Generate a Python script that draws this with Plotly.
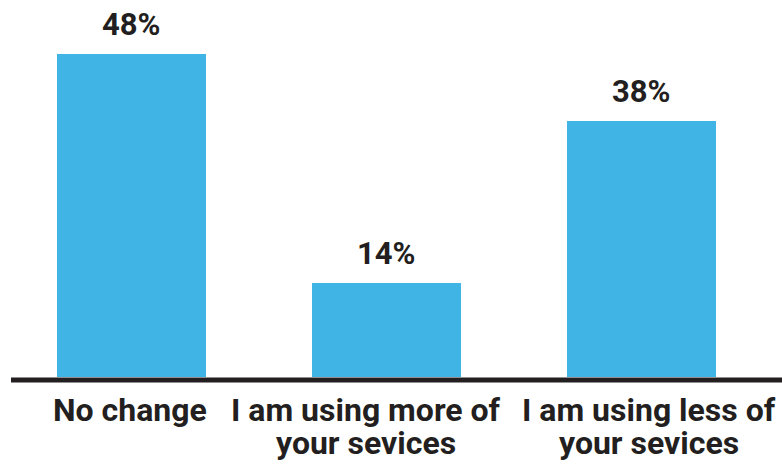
import plotly.graph_objects as go

# Survey responses: change in service usage
categories = ["No change", "I am using more of your sevices", "I am using less of your sevices"]
shares = [48, 14, 38]
tick_lines = [
    ["No change"],
    ["I am using more of", "your sevices"],
    ["I am using less of", "your sevices"],
]

W, H = 782, 464
BAR_COLOR = "#41B4E6"
TEXT_COLOR = "#231F20"
FONT = "Roboto"

fig = go.Figure()
fig.add_trace(go.Bar(
    x=list(range(len(categories))),
    y=shares,
    width=0.584,
    marker=dict(color=BAR_COLOR, line=dict(width=0)),
    hovertext=categories,
    hoverinfo="text+y",
))

# value labels above each bar
for i, v in enumerate(shares):
    fig.add_annotation(
        x=i, y=v, xref="x", yref="y",
        text=f"<b>{v}%</b>", showarrow=False,
        yanchor="bottom", yshift=9,
        font=dict(family=FONT, size=31, color=TEXT_COLOR),
    )

# category labels below the baseline, one annotation per line
label_shift = [-1, -20, 8]
for i, lines in enumerate(tick_lines):
    for j, line in enumerate(lines):
        fig.add_annotation(
            x=i, xref="x",
            y=1 - (410 + 33 * j) / H, yref="paper",
            text=f"<b>{line}</b>", showarrow=False,
            yanchor="middle", xshift=label_shift[i],
            font=dict(family=FONT, size=32, color=TEXT_COLOR),
        )

# baseline rule
fig.add_shape(
    type="line", xref="paper", yref="paper",
    x0=11 / W, x1=1, y0=1 - 380 / H, y1=1 - 380 / H,
    line=dict(color=TEXT_COLOR, width=5),
)

px_per_unit = (377 - 54) / 48
fig.update_layout(
    width=W, height=H,
    margin=dict(l=0, r=0, t=0, b=0),
    paper_bgcolor="white", plot_bgcolor="white",
    showlegend=False,
    bargap=0,
    xaxis=dict(
        range=[-131.2 / 255, (W - 131.2) / 255],
        visible=False, fixedrange=True,
    ),
    yaxis=dict(
        range=[-(H - 377) / px_per_unit, 48 + 54 / px_per_unit],
        visible=False, fixedrange=True,
    ),
)

fig.write_html("out.html")
